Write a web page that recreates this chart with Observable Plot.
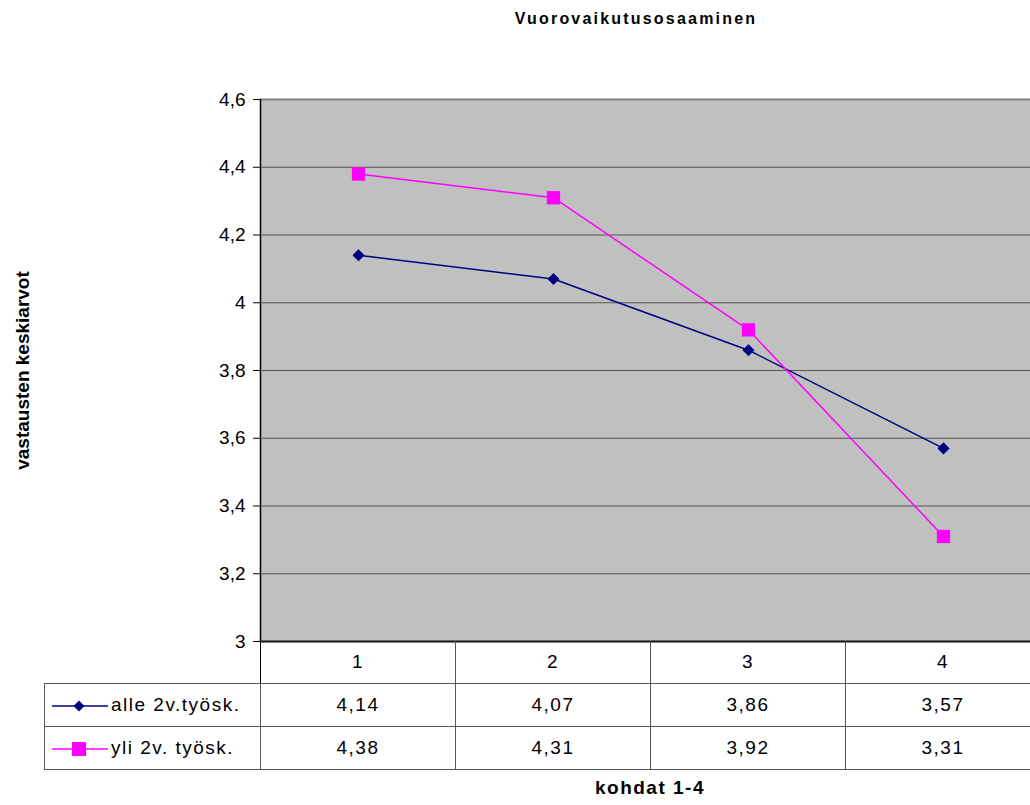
<!DOCTYPE html>
<html>
<head>
<meta charset="utf-8">
<script src="https://cdn.jsdelivr.net/npm/d3@7"></script>
<script src="https://cdn.jsdelivr.net/npm/@observablehq/plot@0.6"></script>
<style>
  html, body { margin: 0; padding: 0; background: #fff; overflow: hidden; }
  #wrap { position: relative; width: 1030px; height: 805px; overflow: hidden;
          font-family: "Liberation Sans", Arial, sans-serif; color: #000; }
  #title { position: absolute; top: 10px; left: 0; width: 1272px; text-align: center;
           font-weight: bold; font-size: 16px; letter-spacing: 2.2px; }
  #chart { position: absolute; top: 0; left: 0; }
  #chart svg { max-width: none !important; }
  #xlabel { position: absolute; top: 777px; left: 260px; width: 780px; text-align: center;
            font-weight: bold; font-size: 19px; letter-spacing: 1.5px; }
  table.data { position: absolute; top: 641px; left: 44px; border-collapse: collapse;
               font-size: 19px; letter-spacing: 1.5px; table-layout: fixed; width: 996px; }
  table.data td { height: 42px; padding: 0; text-align: center; border: 1.5px solid #555; }
  table.data td.lg { text-align: left; white-space: nowrap; }
  table.data tr.head td.blank { border: none; border-right: 1.5px solid #000; }
  table.data tr.head td { height: 42px; border-top: none; }
  table.data td.lg svg { vertical-align: middle; margin: 0 3px 0 7px; }
</style>
</head>
<body>
<div id="wrap">
  <div id="title"></div>
  <div id="chart"></div>
  <table class="data" id="tbl">
    <colgroup><col style="width:216px"><col style="width:195px"><col style="width:195px"><col style="width:195px"><col style="width:195px"></colgroup>
  </table>
  <div id="xlabel"></div>
</div>
<script>
// Chart texts
const title = "Vuorovaikutusosaaminen";
const yLabel = "vastausten keskiarvot";
const xLabel = "kohdat 1-4";

// Categories (kohdat) and the two groups' mean answers
const kohdat = [1, 2, 3, 4];
const seriesNames = ["alle 2v.työsk.", "yli 2v. työsk."];
const alle = [4.14, 4.07, 3.86, 3.57];
const yli = [4.38, 4.31, 3.92, 3.31];
const yTicks = [3, 3.2, 3.4, 3.6, 3.8, 4, 4.2, 4.4, 4.6];

const colors = ["#000080", "#FF00FF"];
const fmt = v => String(v).replace(".", ",");

const rows = [
  ...kohdat.map((k, i) => ({k, v: alle[i], s: seriesNames[0]})),
  ...kohdat.map((k, i) => ({k, v: yli[i], s: seriesNames[1]}))
];

const plot = Plot.plot({
  width: 1040,
  height: 805,
  marginLeft: 260,
  marginRight: 0,
  marginTop: 99,
  marginBottom: 164,
  style: {fontFamily: "'Liberation Sans', Arial, sans-serif", fontSize: "18px", color: "#000", background: "transparent", overflow: "visible", maxWidth: "none"},
  x: {type: "point", domain: kohdat, padding: 0.5, axis: null},
  y: {domain: [3, 4.6], ticks: yTicks},
  color: {domain: seriesNames, range: colors},
  marks: [
    Plot.frame({fill: "#C0C0C0"}),
    Plot.ruleY(yTicks.slice(1, -1), {stroke: "#555", strokeWidth: 1}),
    Plot.ruleY([4.6], {stroke: "#808080", strokeWidth: 2}),
    Plot.ruleY([3], {stroke: "#111", strokeWidth: 2}),
    Plot.frame({anchor: "left", stroke: "#000", strokeWidth: 1.5}),
    Plot.axisY({ticks: yTicks, tickFormat: fmt, tickSize: 7, tickPadding: 8, label: null, fontSize: 19, letterSpacing: 0.6}),
    Plot.text([yLabel], {frameAnchor: "left", dx: -238, rotate: -90, textAnchor: "middle", lineAnchor: "middle", fontWeight: "bold", fontSize: 19, letterSpacing: 1.5}),
    Plot.line(rows, {x: "k", y: "v", z: "s", stroke: "s", strokeWidth: 1.5}),
    Plot.dot(rows.filter(d => d.s === seriesNames[0]), {x: "k", y: "v", symbol: "diamond2", fill: colors[0], stroke: colors[0], strokeWidth: 1, r: 5}),
    Plot.dot(rows.filter(d => d.s === seriesNames[1]), {x: "k", y: "v", symbol: "square", fill: colors[1], r: 7.5})
  ]
});
document.getElementById("chart").appendChild(plot);
document.getElementById("title").textContent = title;
document.getElementById("xlabel").textContent = xLabel;

// Data table under the plot: header row of kohdat, then one row per series
const tbl = document.getElementById("tbl");
const head = tbl.insertRow();
head.className = "head";
const blank = head.insertCell();
blank.className = "lg blank";
kohdat.forEach(k => { const c = head.insertCell(); c.textContent = k; });

const keySvg = (i) => {
  const marker = i === 0
    ? `<path d="M27,3.5 L32.5,9 L27,14.5 L21.5,9 Z" fill="${colors[0]}"/>`
    : `<rect x="20" y="2" width="14" height="14" fill="${colors[1]}"/>`;
  return `<svg width="56" height="18"><line x1="0" x2="56" y1="9" y2="9" stroke="${colors[i]}" stroke-width="1.5"/>${marker}</svg>`;
};
[alle, yli].forEach((vals, i) => {
  const r = tbl.insertRow();
  const lg = r.insertCell();
  lg.className = "lg";
  lg.innerHTML = keySvg(i) + "<span>" + seriesNames[i] + "</span>";
  vals.forEach(v => { const c = r.insertCell(); c.textContent = fmt(v); });
});
</script>
</body>
</html>
